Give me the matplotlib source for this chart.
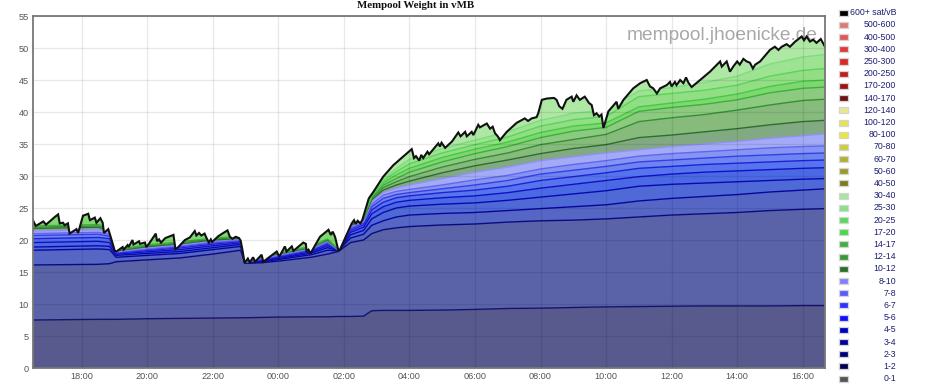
import numpy as np
import matplotlib
matplotlib.use("Agg")
import matplotlib.pyplot as plt
from matplotlib.patches import Polygon, Rectangle

# ---------------- data ----------------
# total mempool weight (top black line), hours since midnight of day 1
t_total = [16.51, 16.60, 16.83, 16.91, 17.18, 17.28, 17.33, 17.43, 17.48, 17.58, 17.63, 17.84, 17.89,
           18.04, 18.20, 18.25, 18.40, 18.45, 18.57, 18.64, 18.68, 18.81, 18.86, 19.01, 19.06, 19.25,
           19.28, 19.40, 19.43, 19.55, 19.58, 19.75, 19.78, 19.93, 19.97, 20.05, 20.26, 20.30, 20.36,
           20.42, 20.55, 20.80, 20.86, 20.93, 21.15, 21.30, 21.45, 21.50, 21.58, 21.65, 21.75, 21.80,
           21.88, 21.94, 21.98, 22.17, 22.32, 22.45, 22.52, 22.60, 22.70, 22.80, 22.85, 22.91, 22.97,
           23.07, 23.13, 23.23, 23.29, 23.49, 23.54, 23.95, 24.03, 24.20, 24.25, 24.41, 24.46, 24.76,
           24.84, 24.86, 24.92, 24.98, 25.27, 25.53, 25.60, 25.66, 25.73, 25.83, 25.88, 26.24, 26.31,
           26.36, 26.42, 26.50, 26.56, 26.76, 26.91, 27.20, 27.51, 27.87, 28.07, 28.14, 28.20, 28.30,
           28.36, 28.42, 28.55, 28.60, 28.88, 28.93, 28.98, 29.09, 29.30, 29.49, 29.56, 29.70, 29.75,
           29.90, 29.95, 30.10, 30.15, 30.36, 30.46, 30.54, 30.61, 30.71, 30.76, 30.97, 31.27, 31.52,
           31.62, 31.73, 31.88, 31.93, 32.04, 32.19, 32.41, 32.49, 32.57, 32.67, 32.79, 32.95, 33.00,
           33.10, 33.20, 33.35, 33.48, 33.56, 33.63, 33.71, 33.79, 33.86, 33.92, 34.07, 34.22, 34.32,
           34.37, 34.53, 34.83, 35.04, 35.24, 35.34, 35.44, 35.55, 35.65, 35.85, 35.95, 36.00, 36.10,
           36.15, 36.26, 36.36, 36.44, 36.51, 36.61, 36.87, 37.17, 37.48, 37.53, 37.68, 37.78, 37.88,
           38.00, 38.08, 38.19, 38.29, 38.39, 38.48, 38.55, 38.70, 39.00, 39.15, 39.26, 39.36, 39.51,
           39.61, 39.77, 39.87, 39.97, 40.04, 40.12, 40.22, 40.32, 40.42, 40.55, 40.68]
v_total = [23.1, 22.2, 22.9, 22.4, 23.6, 24.0, 22.6, 22.7, 22.3, 22.6, 21.0, 21.7, 21.1,
           23.8, 24.1, 23.1, 23.5, 22.7, 23.4, 22.7, 21.1, 21.7, 20.9, 18.3, 18.2, 18.9,
           18.5, 19.2, 18.9, 20.0, 19.3, 19.8, 19.4, 19.6, 18.9, 19.4, 21.0, 19.8, 20.1,
           19.6, 20.3, 20.8, 18.6, 18.8, 20.0, 20.4, 21.4, 20.7, 21.1, 20.7, 21.0, 20.4,
           19.6, 20.1, 19.7, 20.6, 21.1, 21.5, 20.5, 20.2, 20.5, 20.3, 19.9, 18.3, 16.4,
           17.1, 16.5, 17.3, 16.6, 17.7, 16.6, 18.2, 17.4, 19.0, 18.2, 19.0, 18.3, 19.6,
           19.4, 18.3, 18.5, 17.9, 20.5, 21.6, 20.8, 21.3, 20.5, 18.4, 18.5, 22.6, 23.1,
           22.5, 23.0, 22.6, 23.1, 26.5, 27.6, 29.9, 31.7, 33.3, 34.2, 32.8, 33.1, 32.4,
           33.3, 32.8, 33.8, 33.4, 35.1, 34.6, 35.2, 34.4, 35.4, 36.8, 36.2, 36.9, 36.2,
           36.9, 36.4, 38.0, 37.6, 38.2, 37.4, 37.7, 36.7, 36.1, 35.6, 36.9, 38.3, 39.0,
           38.6, 39.0, 39.2, 39.8, 41.9, 42.1, 42.2, 41.9, 40.9, 40.5, 41.9, 42.4, 41.6,
           42.6, 41.9, 42.4, 41.4, 41.1, 39.5, 39.8, 39.3, 39.6, 37.5, 40.1, 41.0, 41.6,
           40.5, 41.9, 43.7, 44.5, 45.0, 44.0, 43.7, 42.9, 43.7, 44.2, 44.7, 44.0, 44.7,
           44.2, 45.0, 44.5, 45.4, 44.6, 43.9, 45.0, 46.3, 47.9, 47.1, 47.9, 46.3, 47.1,
           47.9, 47.4, 48.3, 47.9, 47.7, 46.8, 47.4, 47.9, 49.7, 50.2, 49.7, 50.2, 50.6,
           50.2, 51.0, 51.4, 51.8, 51.2, 51.8, 51.0, 51.3, 50.8, 51.4, 50.2]

# fee-rate bands (vMB per band), sampled at t_layers
t_layers = [16.5, 17.5, 18.5, 18.85, 19.05, 20.0, 21.0, 22.0, 22.85, 22.98, 23.5, 24.0, 25.0, 25.5,
            25.83, 26.2, 26.6, 26.85, 27.2, 27.6, 28.0, 29.0, 30.0, 31.0, 32.0, 33.0, 34.0, 35.0,
            36.0, 37.0, 38.0, 39.0, 40.0, 40.7]
band_0_1 = [7.5, 7.55, 7.6, 7.6, 7.6, 7.7, 7.75, 7.8, 7.85, 7.85, 7.9, 7.95, 8.0, 8.0,
            8.05, 8.05, 8.1, 8.95, 9.0, 9.0, 9.0, 9.05, 9.15, 9.3, 9.35, 9.45, 9.55, 9.6,
            9.65, 9.7, 9.7, 9.7, 9.75, 9.75]
band_1_2 = [8.6, 8.6, 8.6, 8.7, 9.0, 9.2, 9.45, 10.0, 10.55, 8.5, 8.55, 8.75, 9.3, 9.8,
            10.15, 11.55, 11.9, 12.05, 12.6, 12.9, 13.1, 13.3, 13.35, 13.5, 13.65, 13.65, 13.75, 14.0,
            14.25, 14.4, 14.6, 14.9, 15.05, 15.15]
band_2_3 = [2.3, 2.35, 2.4, 2.2, 0.7, 0.7, 0.7, 0.7, 0.6, 0.05, 0.15, 0.25, 0.4, 0.6,
            0.1, 0.7, 0.9, 1.3, 1.4, 1.7, 1.8, 1.8, 1.8, 1.8, 1.9, 2.1, 2.2, 2.5,
            2.6, 2.7, 2.8, 2.9, 3.0, 3.1]
band_3_4 = [0.5, 0.5, 0.5, 0.5, 0.3, 0.3, 0.3, 0.3, 0.3, 0.02, 0.1, 0.15, 0.25, 0.4,
            0.03, 0.5, 0.6, 1.0, 1.3, 1.4, 1.4, 1.45, 1.5, 1.6, 1.8, 2.0, 2.2, 2.3,
            2.2, 2.1, 2.0, 1.8, 1.7, 1.6]
band_4_5 = [0.7, 0.7, 0.7, 0.6, 0.2, 0.25, 0.3, 0.3, 0.25, 0.02, 0.1, 0.15, 0.2, 0.3,
            0.03, 0.4, 0.5, 0.8, 0.9, 0.9, 0.9, 1.0, 1.1, 1.2, 1.4, 1.5, 1.6, 1.5,
            1.6, 1.7, 1.7, 1.7, 1.7, 1.7]
band_5_6 = [0.6, 0.6, 0.6, 0.6, 0.15, 0.2, 0.25, 0.25, 0.2, 0.02, 0.1, 0.15, 0.2, 0.25,
            0.03, 0.3, 0.35, 0.6, 0.7, 0.7, 0.7, 0.8, 0.9, 1.0, 1.2, 1.2, 1.2, 1.3,
            1.2, 1.2, 1.2, 1.2, 1.2, 1.2]
band_6_7 = [0.5, 0.5, 0.5, 0.4, 0.1, 0.15, 0.2, 0.2, 0.15, 0.02, 0.1, 0.1, 0.15, 0.2,
            0.03, 0.25, 0.25, 0.5, 0.6, 0.5, 0.5, 0.6, 0.8, 0.9, 1.0, 1.0, 1.0, 1.0,
            1.0, 1.0, 1.1, 1.1, 1.1, 1.1]
band_7_8 = [0.3, 0.3, 0.3, 0.3, 0.07, 0.15, 0.15, 0.15, 0.1, 0.02, 0.1, 0.1, 0.1, 0.15,
            0.03, 0.2, 0.25, 0.4, 0.5, 0.5, 0.5, 0.6, 0.8, 0.8, 0.8, 0.9, 0.9, 0.9,
            1.0, 1.0, 1.0, 1.1, 1.1, 1.1]
band_8_10 = [0.4, 0.4, 0.4, 0.3, 0.08, 0.15, 0.15, 0.15, 0.1, 0.02, 0.1, 0.1, 0.1, 0.15,
             0.03, 0.15, 0.2, 0.4, 0.4, 0.5, 0.7, 1.0, 1.2, 1.3, 1.3, 1.2, 1.2, 1.0,
             1.1, 1.2, 1.3, 1.5, 1.7, 1.9]
band_10_12 = [0.4, 0.4, 0.4, 0.3, 0.1, 0.15, 0.15, 0.15, 0.15, 0.03, 0.1, 0.1, 0.1, 0.1,
              0.04, 0.15, 0.15, 0.3, 0.4, 0.5, 0.6, 0.9, 1.0, 1.1, 1.1, 1.3, 1.3, 1.9,
              1.8, 1.9, 2.0, 2.1, 2.2, 2.1]
band_12_14 = [0.2, 0.2, 0.2, 0.2, 0.1, 0.15, 0.15, 0.15, 0.15, 0.05, 0.1, 0.1, 0.1, 0.1,
              0.04, 0.15, 0.15, 0.25, 0.4, 0.5, 0.7, 0.9, 1.0, 1.1, 1.4, 1.4, 1.6, 2.5,
              2.7, 2.7, 2.9, 3.1, 3.3, 3.3]
band_14_17 = [0.2, 0.2, 0.2, 0.2, 0.1, 0.15, 0.15, 0.15, 0.15, 0.05, 0.1, 0.1, 0.1, 0.1,
              0.05, 0.15, 0.15, 0.2, 0.35, 0.5, 0.7, 0.8, 0.9, 1.0, 1.1, 1.3, 1.1, 1.6,
              1.6, 1.6, 1.6, 1.9, 1.9, 1.9]
band_17_20 = [2.0, 2.0, 2.0, 2.0, 2.0, 2.0, 2.0, 2.0, 2.0, 1.5, 2.0, 2.0, 2.0, 2.0,
              2.0, 1.0, 0.3, 0.2, 0.35, 0.6, 0.6, 0.7, 0.7, 0.7, 0.8, 0.8, 0.7, 0.7,
              0.7, 0.8, 0.9, 1.0, 1.1, 1.1]
band_20_25 = [0.3, 0.3, 0.3, 0.3, 0.3, 0.3, 0.3, 0.3, 0.3, 0.3, 0.3, 0.3, 0.3, 0.3,
              0.3, 0.3, 0.3, 0.2, 0.3, 0.5, 0.7, 0.7, 0.7, 0.8, 1.0, 1.0, 1.0, 1.6,
              1.5, 1.4, 1.4, 1.6, 1.7, 1.8]
band_25_30 = [0.3, 0.3, 0.3, 0.3, 0.3, 0.3, 0.3, 0.3, 0.3, 0.3, 0.3, 0.3, 0.3, 0.3,
              0.3, 0.3, 0.3, 0.25, 0.3, 0.5, 0.7, 0.7, 0.7, 0.8, 0.9, 1.0, 1.0, 0.9,
              0.9, 1.2, 1.4, 1.9, 2.1, 2.2]
band_30_40 = [2.0, 2.0, 2.0, 2.0, 2.0, 2.0, 2.0, 2.0, 2.0, 2.0, 2.0, 2.0, 2.0, 2.0,
              2.0, 2.0, 3.0, 2.6, 3.5, 3.8, 4.4, 4.7, 4.9, 5.1, 5.8, 5.2, 4.7, 4.7,
              5.2, 5.9, 5.9, 5.5, 5.4, 5.0]

band_labels = ["0-1", "1-2", "2-3", "3-4", "4-5", "5-6", "6-7", "7-8", "8-10",
               "10-12", "12-14", "14-17", "17-20", "20-25", "25-30", "30-40"]
bands = [band_0_1, band_1_2, band_2_3, band_3_4, band_4_5, band_5_6, band_6_7, band_7_8, band_8_10,
         band_10_12, band_12_14, band_14_17, band_17_20, band_20_25, band_25_30, band_30_40]
fill_colors = ["#585a8d", "#5a62a8", "#5566c4", "#4f69d6", "#4b69e4", "#5674ee", "#6c85f1",
               "#8496f3", "#a3abf6", "#82aa82", "#86bb7c", "#8ccb7f", "#7ed870", "#92de84",
               "#9ee392", "#afe8a4"]
line_colors = ["#14146e", "#0a0a80", "#06069a", "#0808b0", "#1010c4", "#2020d6", "#3c3ce6",
               "#6464f0", "#9090f6", "#2d6e2d", "#358f35", "#3eae3e", "#47c847", "#5ad45a",
               "#7fdc7f", None]

legend_labels = ["600+ sat/vB", "500-600", "400-500", "300-400", "250-300", "200-250", "170-200",
                 "140-170", "120-140", "100-120", "80-100", "70-80", "60-70", "50-60", "40-50",
                 "30-40", "25-30", "20-25", "17-20", "14-17", "12-14", "10-12", "8-10", "7-8",
                 "6-7", "5-6", "4-5", "3-4", "2-3", "1-2", "0-1"]
legend_colors = ["#000000", "#e07878", "#e05858", "#dd3a3a", "#d82828", "#c01e1e", "#9a1414",
                 "#701010", "#e8e890", "#e4e450", "#e8e838", "#cccc3c", "#b0b034", "#9a9a28",
                 "#7a7a1e", "#a6e6a0", "#88e088", "#5cd85c", "#48d848", "#40b040", "#3a983a",
                 "#2a6e2a", "#8080ff", "#5a5aff", "#3030ff", "#1010ff", "#0000c0", "#000098",
                 "#00007a", "#000050", "#555555"]

x_ticks = [18, 20, 22, 24, 26, 28, 30, 32, 34, 36, 38, 40]
x_tick_labels = ["18:00", "20:00", "22:00", "00:00", "02:00", "04:00", "06:00", "08:00",
                 "10:00", "12:00", "14:00", "16:00"]
y_ticks = [0, 5, 10, 15, 20, 25, 30, 35, 40, 45, 50, 55]

# ---------------- figure ----------------
W, H = 936, 388
fig = plt.figure(figsize=(W / 100, H / 100), dpi=100)
ax = fig.add_axes([33 / W, (H - 368) / H, (825 - 33) / W, (368 - 16) / H])

# watermark (behind data)
ax.text(0.990, 0.944, "mempool.jhoenicke.de", transform=ax.transAxes, ha="right", va="center",
        fontsize=13.8, color="#a8a8a8", family="Liberation Sans", zorder=0.5)

clip = Polygon([(t_total[0], 0)] + list(zip(t_total, v_total)) + [(t_total[-1], 0)],
               closed=True, transform=ax.transData)

polys = ax.stackplot(t_layers, *bands, colors=fill_colors, linewidth=0, zorder=1)
for p in polys:
    p.set_clip_path(clip)

cum = np.cumsum(np.array(bands), axis=0)
for i, c in enumerate(line_colors):
    if c is None:
        continue
    ln, = ax.plot(t_layers, cum[i], color=c, lw=1.0, zorder=2)
    ln.set_clip_path(clip)

ax.plot(t_total, v_total, color="#111111", lw=1.5, zorder=4, solid_joinstyle="miter")

ax.set_xlim(16.514, 40.68)
ax.set_ylim(0, 55)
ax.set_xticks(x_ticks)
ax.set_xticklabels(x_tick_labels)
ax.set_yticks(y_ticks)
ax.set_axisbelow(False)
ax.grid(True, color="black", alpha=0.09, lw=0.9, zorder=3)
ax.tick_params(length=0, labelsize=6.6, labelcolor="#555555", pad=3)
for lab in ax.get_xticklabels() + ax.get_yticklabels():
    lab.set_family("Liberation Sans")
for s in ax.spines.values():
    s.set_color("#777777")
    s.set_linewidth(1.3)
    s.set_zorder(5)

fig.text(416 / W, 1 - 6 / H, "Mempool Weight in vMB", ha="center", va="center",
         family="Liberation Serif", fontweight="bold", fontsize=7.8, color="#111111")

# legend (drawn manually to get right-aligned labels)
for i, (lab, col) in enumerate(zip(legend_labels, legend_colors)):
    yc = 12.7 + i * 12.2
    fig.add_artist(Rectangle((839 / W, 1 - (yc + 3.0) / H), 8.5 / W, 6.0 / H,
                             transform=fig.transFigure, facecolor=col, edgecolor="#d4d4d4",
                             lw=0.9))
    fig.text(896 / W, 1 - yc / H, lab, ha="right", va="center", fontsize=6.3,
             color="#1e1e74", family="Liberation Sans")

fig.savefig("out.png", dpi=100)
